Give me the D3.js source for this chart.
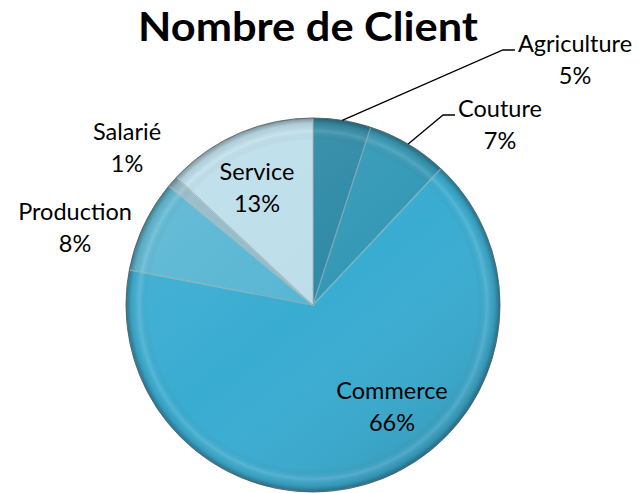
<!DOCTYPE html>
<html>
<head>
<meta charset="utf-8">
<script src="https://cdn.jsdelivr.net/npm/d3@7"></script>
<style>
  body { margin: 0; background: #fff; }
  text { font-family: Lato, "Open Sans", sans-serif; fill: #000; }
</style>
</head>
<body>
<div id="chart"></div>
<script>
// Nombre de Client - pie chart

const categories = ['Agriculture', 'Couture', 'Commerce', 'Production', 'Salarié', 'Service'];
const values = [5, 7, 66, 8, 1, 13];
const colors = ['#2e8aa6', '#3499b6', '#39acd1', '#58b6d3', '#93bac7', '#bcdeea'];
const percentLabels = ['5%', '7%', '66%', '8%', '1%', '13%'];
// first-line baseline of each label, relative to the pie centre
const labelOffsets = {
  'Agriculture': [262, -253],
  'Couture':     [187, -188],
  'Commerce':    [79, 94],
  'Production':  [-238, -85],
  'Salarié':     [-186, -165],
  'Service':     [-56, -125]
};
// which labels get a leader line
const leaders = ['Agriculture', 'Couture'];

const width = 639;
const height = 493;
const cx = 313, cy = 305, radius = 187;

const svg = d3.select('#chart')
  .append('svg')
  .attr('width', width)
  .attr('height', height);

const defs = svg.append('defs');

// rim darkening for the bevel look
const rim = defs.append('radialGradient')
  .attr('id', 'rim')
  .attr('gradientUnits', 'userSpaceOnUse')
  .attr('cx', 0).attr('cy', 0).attr('r', radius);
rim.append('stop').attr('offset', '0%').attr('stop-color', '#000').attr('stop-opacity', 0);
rim.append('stop').attr('offset', '88%').attr('stop-color', '#000').attr('stop-opacity', 0);
rim.append('stop').attr('offset', '93%').attr('stop-color', '#fff').attr('stop-opacity', 0.12);
rim.append('stop').attr('offset', '97%').attr('stop-color', '#000').attr('stop-opacity', 0.08);
rim.append('stop').attr('offset', '100%').attr('stop-color', '#000').attr('stop-opacity', 0.35);

// soft light from the top left
const shade = defs.append('linearGradient')
  .attr('id', 'shade')
  .attr('gradientUnits', 'userSpaceOnUse')
  .attr('x1', -radius).attr('y1', -radius)
  .attr('x2', radius * 0.6).attr('y2', radius);
shade.append('stop').attr('offset', '0%').attr('stop-color', '#fff').attr('stop-opacity', 0.12);
shade.append('stop').attr('offset', '55%').attr('stop-color', '#fff').attr('stop-opacity', 0);
shade.append('stop').attr('offset', '100%').attr('stop-color', '#000').attr('stop-opacity', 0.12);

const data = categories.map((c, i) => ({ name: c, value: values[i], color: colors[i], pct: percentLabels[i] }));

const pie = d3.pie().sort(null).value(d => d.value);
const arc = d3.arc().innerRadius(0).outerRadius(radius);
const arcs = pie(data);

const g = svg.append('g').attr('transform', `translate(${cx},${cy})`);

const slices = g.selectAll('g.slice')
  .data(arcs)
  .enter().append('g')
  .attr('class', 'slice');

slices.append('path')
  .attr('d', arc)
  .attr('fill', d => d.data.color);

slices.append('path')
  .attr('d', arc)
  .attr('fill', 'url(#shade)');

slices.append('path')
  .attr('d', arc)
  .attr('fill', 'url(#rim)')
  .attr('stroke', 'rgba(255,255,255,0.35)')
  .attr('stroke-width', 1.2);

// thin dark edge between slices
slices.append('path')
  .attr('d', arc)
  .attr('fill', 'none')
  .attr('stroke', 'rgba(40,70,80,0.45)')
  .attr('stroke-width', 0.6);

// outer rim
g.append('circle')
  .attr('r', radius)
  .attr('fill', 'none')
  .attr('stroke', 'rgba(50,70,80,0.6)')
  .attr('stroke-width', 1);

// labels
const labels = g.selectAll('text.label')
  .data(arcs)
  .enter().append('text')
  .attr('class', 'label')
  .attr('text-anchor', 'middle')
  .style('font-size', '23.5px')
  .attr('transform', d => `translate(${labelOffsets[d.data.name][0]},${labelOffsets[d.data.name][1]})`);

labels.append('tspan')
  .attr('class', 'name')
  .attr('x', 0).attr('y', 0)
  .text(d => d.data.name);
labels.append('tspan')
  .attr('x', 0).attr('y', 32)
  .text(d => d.data.pct);

// leader lines, from the slice edge to the left of the label
labels.each(function(d) {
  if (!leaders.includes(d.data.name)) return;
  const a = (d.startAngle + d.endAngle) / 2;
  const p0 = [Math.sin(a) * radius, -Math.cos(a) * radius];
  const off = labelOffsets[d.data.name];
  const textW = d3.select(this).select('tspan.name').node().getComputedTextLength();
  const p2 = [off[0] - textW / 2 - 3, off[1] - 2];
  const p1 = [p2[0] - 12, p2[1]];
  g.append('polyline')
    .attr('points', [p0, p1, p2].map(p => p.join(',')).join(' '))
    .attr('fill', 'none')
    .attr('stroke', '#000')
    .attr('stroke-width', 1.3);
});

// title
svg.append('text')
  .attr('x', 308)
  .attr('y', 41)
  .attr('text-anchor', 'middle')
  .attr('textLength', 340)
  .attr('lengthAdjust', 'spacingAndGlyphs')
  .style('font-size', '41px')
  .style('font-weight', 'bold')
  .text('Nombre de Client');
</script>
</body>
</html>
